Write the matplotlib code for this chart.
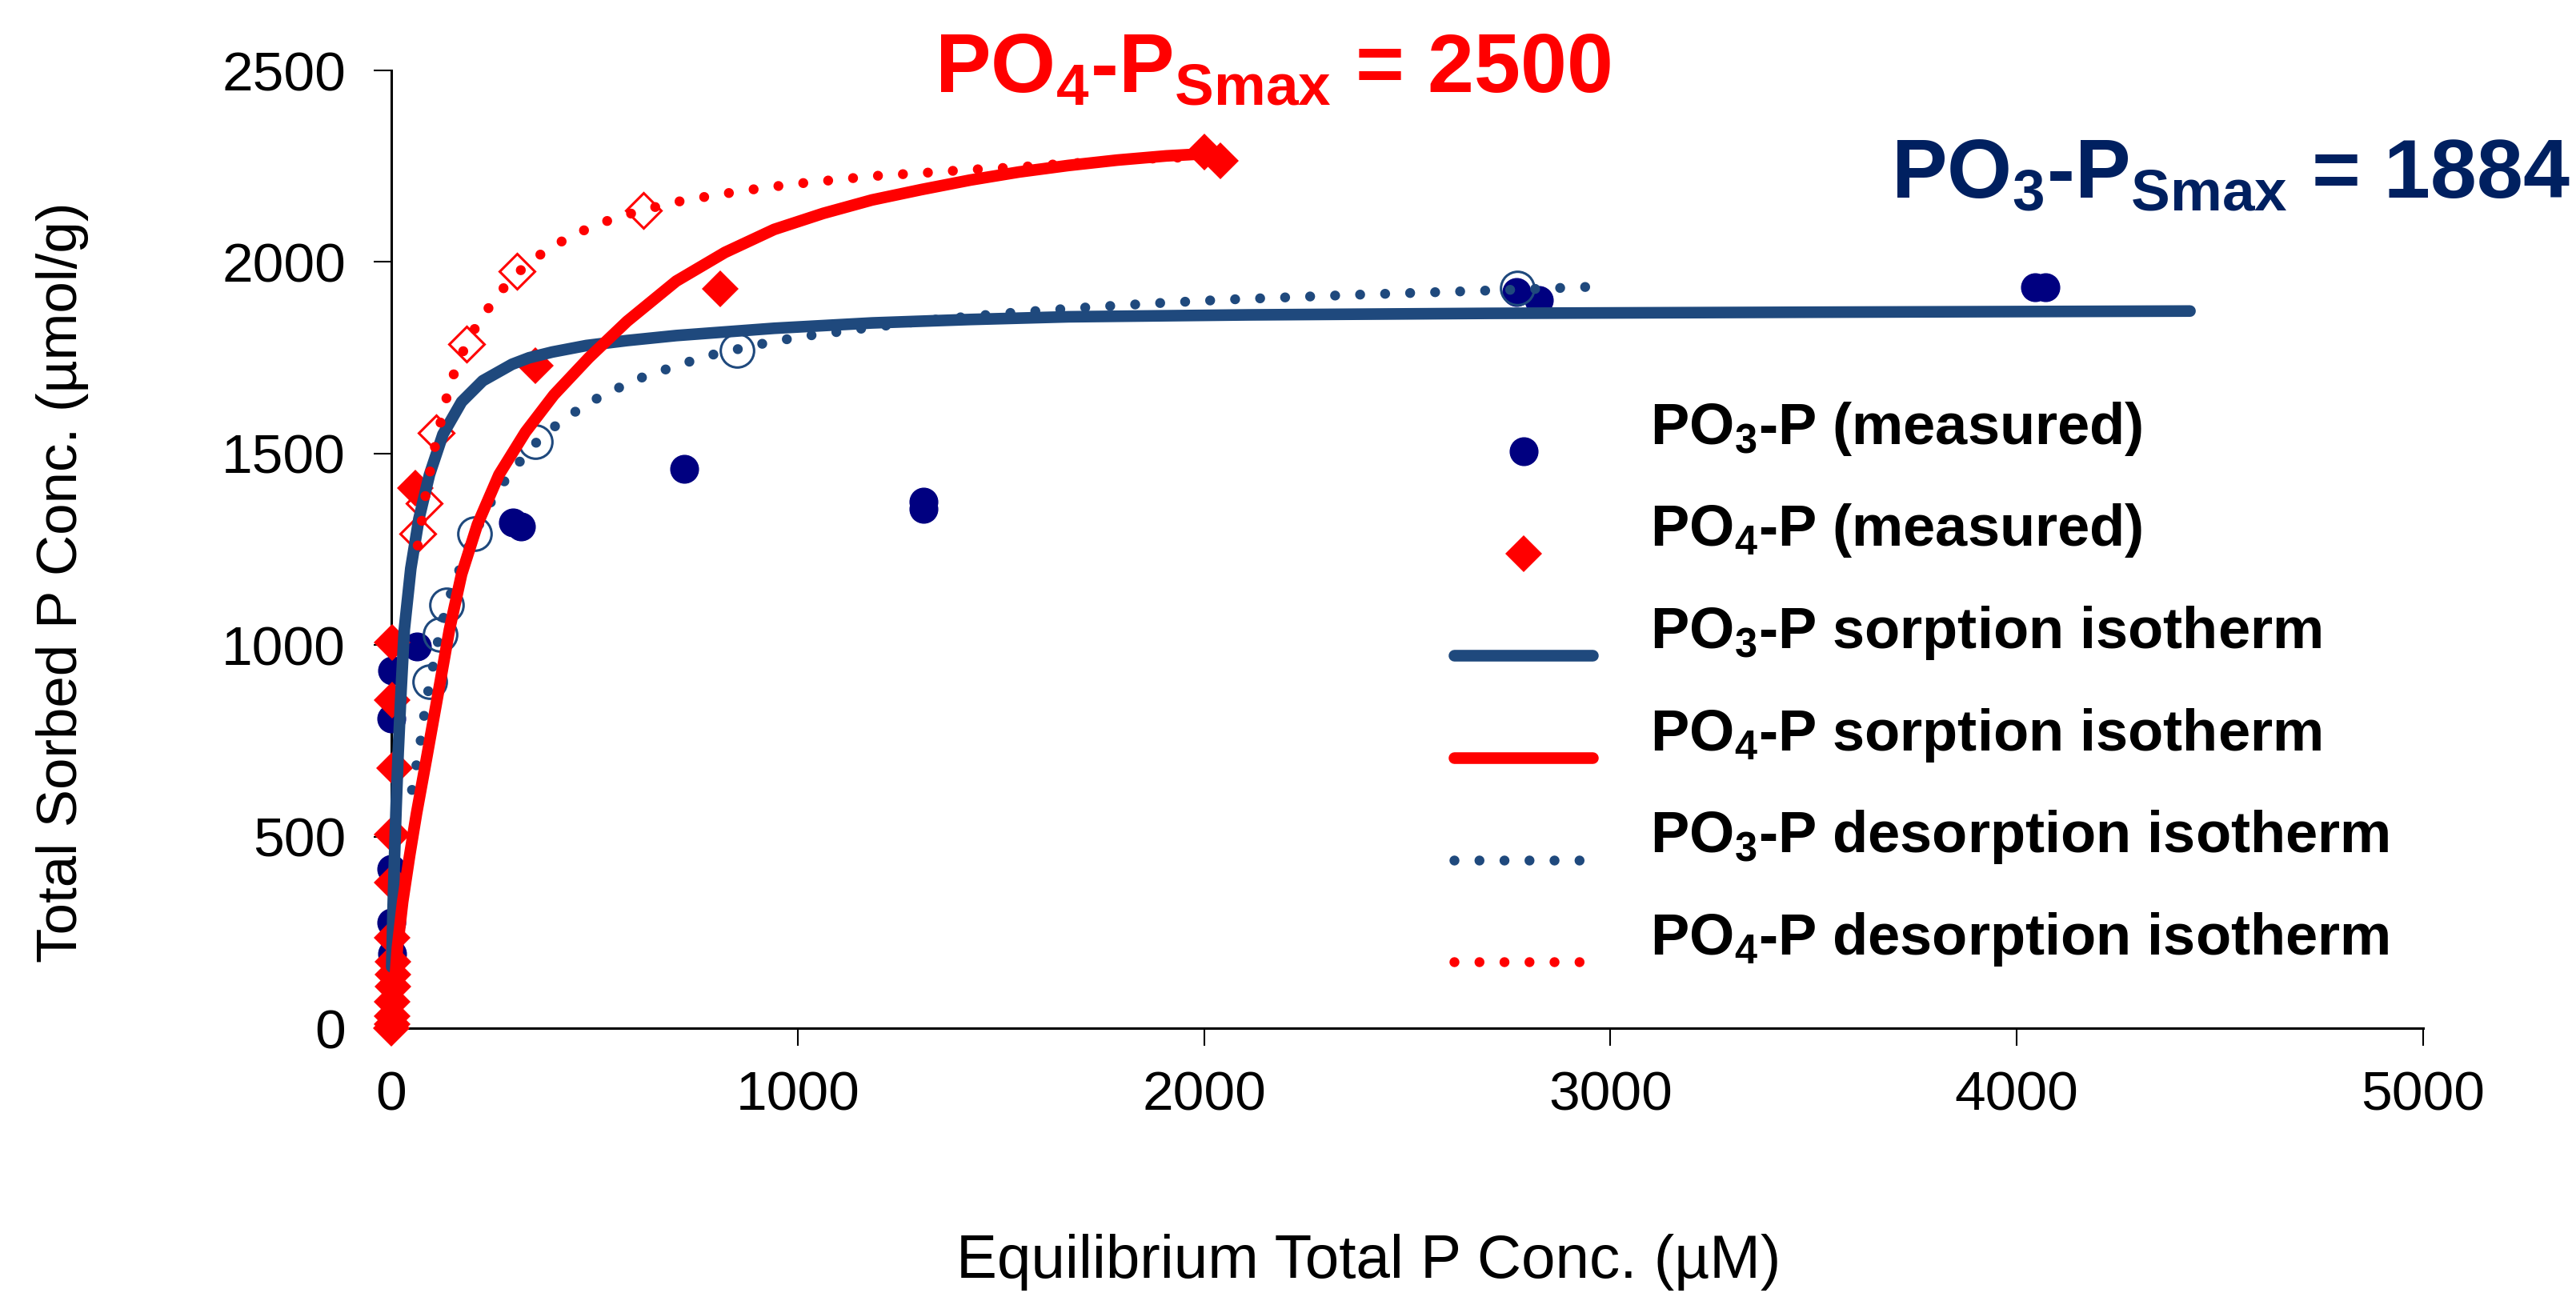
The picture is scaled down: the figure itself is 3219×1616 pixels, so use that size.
import matplotlib
matplotlib.use('Agg')
import matplotlib.pyplot as plt
from matplotlib.legend_handler import HandlerLine2D
from matplotlib.lines import Line2D

plt.rcParams['font.family'] = ['Liberation Sans', 'DejaVu Sans']
plt.rcParams['mathtext.fontset'] = 'custom'
plt.rcParams['mathtext.rm'] = 'Liberation Sans:bold'
plt.rcParams['mathtext.bf'] = 'Liberation Sans:bold'
plt.rcParams['mathtext.default'] = 'rm'

# measured sorption points (equilibrium conc. uM, sorbed umol/g)
po3_meas_x = [2, 0, 0, 0, 2, 64, 300, 320, 720, 1310, 1310, 2768, 2824, 4045, 4070]
po3_meas_y = [195, 276, 415, 808, 933, 996, 1320, 1310, 1460, 1375, 1355, 1921, 1900, 1935, 1935]

po4_meas_x = [0, 2, 3, 3, 4, 4, 4, 3, 2, 2, 8, 2, 2, 60, 355, 810, 2000, 2040]
po4_meas_y = [0, 10, 31, 69, 109, 140, 173, 236, 380, 505, 679, 856, 1006, 1410, 1730, 1930, 2287, 2265]

# desorption points (open markers)
po3_des_x = [94, 120, 135, 205, 355, 850, 2771]
po3_des_y = [905, 1027, 1105, 1291, 1530, 1770, 1932]

po4_des_x = [66, 80, 110, 185, 310, 620]
po4_des_y = [1290, 1370, 1555, 1785, 1975, 2135]

# isotherm curves
po3_sorp_x = [1, 4, 8, 12, 17, 24, 32, 48, 68, 94, 127, 173, 225, 297, 339, 396, 480, 580, 701,
              942, 1183, 1425, 1666, 2109, 2700, 3500, 4426]
po3_sorp_y = [160, 300, 450, 580, 720, 880, 1040, 1200, 1330, 1445, 1550, 1635, 1690, 1733, 1750, 1765, 1782, 1795, 1808,
              1827, 1841, 1850, 1857, 1862, 1866, 1869, 1872]

po4_sorp_x = [6, 15, 28, 45, 62, 86, 118, 143, 173, 212, 265, 330, 400, 486, 580, 701, 821, 942, 1063,
              1183, 1304, 1425, 1545, 1666, 1786, 1907, 2010]
po4_sorp_y = [80, 210, 330, 450, 560, 700, 890, 1040, 1185, 1315, 1445, 1556, 1653, 1750, 1845, 1950, 2025, 2085, 2127,
              2162, 2189, 2214, 2235, 2252, 2266, 2277, 2283]

po3_desp_x = [51, 61, 71, 79, 88, 98, 110, 120, 137, 153, 174, 196, 222, 248, 281, 317, 356, 400, 448, 499,
              554, 607, 665, 725, 782, 842, 900, 960, 1020, 1081, 1141, 1322, 1509, 1690, 1873, 2058, 2385, 2770, 2991]
po3_desp_y = [622, 682, 741, 804, 863, 922, 981, 1041, 1101, 1157, 1214, 1272, 1327, 1379, 1432, 1480, 1528, 1569, 1606, 1640,
              1669, 1695, 1716, 1737, 1756, 1770, 1784, 1796, 1807, 1815, 1824, 1848, 1866, 1880, 1892, 1902, 1915, 1928, 1937]

po4_desp_x = [65, 71, 79, 87, 99, 110, 137, 154, 176, 202, 230, 267, 309, 351, 400, 454, 508, 568, 626, 683,
              743, 806, 866, 927, 987, 1048, 1109, 1171, 1232, 1292, 1352, 1412, 1476, 1537, 1597, 1660, 1720,
              1780, 1907, 2049]
po4_desp_y = [1260, 1295, 1354, 1411, 1472, 1532, 1650, 1708, 1765, 1820, 1866, 1921, 1970, 2008, 2043, 2073, 2099, 2120, 2137, 2153,
              2165, 2176, 2186, 2195, 2203, 2210, 2216, 2223, 2228, 2231, 2236, 2240, 2244, 2247, 2252, 2257, 2260,
              2265, 2272, 2275]

navy = '#000080'
steel = '#1f497d'
red = '#ff0000'

fig = plt.figure(figsize=(32.19, 16.16), dpi=100)
ax = fig.add_axes([0.1519, 0.2048, 0.7888, 0.7407])

dots = (0, (0.001, 2.5))

ax.plot(po3_meas_x, po3_meas_y, ls='none', marker='o', ms=25, color=navy,
        label=r'PO$_3$-P (measured)', zorder=3, clip_on=False)
ax.plot(po4_meas_x, po4_meas_y, ls='none', marker='D', ms=23, color=red, mew=0,
        label=r'PO$_4$-P (measured)', zorder=3, clip_on=False)
ax.plot(po3_des_x, po3_des_y, ls='none', marker='o', ms=30, mfc='none', mec=steel, mew=2.2,
        zorder=3, clip_on=False)
ax.plot(po4_des_x, po4_des_y, ls='none', marker='D', ms=22, mfc='none', mec=red, mew=2.2,
        zorder=3, clip_on=False)

ax.plot(po3_sorp_x, po3_sorp_y, color=steel, lw=10.5, solid_capstyle='round', solid_joinstyle='round',
        label=r'PO$_3$-P sorption isotherm', zorder=4, clip_on=False)
ax.plot(po4_sorp_x, po4_sorp_y, color=red, lw=10.5, solid_capstyle='round', solid_joinstyle='round',
        label=r'PO$_4$-P sorption isotherm', zorder=5, clip_on=False)
ax.plot(po3_desp_x, po3_desp_y, color=steel, lw=9, ls=dots, dash_capstyle='round',
        label=r'PO$_3$-P desorption isotherm', zorder=4.5, clip_on=False)
ax.plot(po4_desp_x, po4_desp_y, color=red, lw=9, ls=dots, dash_capstyle='round',
        label=r'PO$_4$-P desorption isotherm', zorder=6, clip_on=False)

ax.set_xlim(0, 5000)
ax.set_ylim(0, 2500)
ax.set_xticks(range(0, 5001, 1000))
ax.set_yticks(range(0, 2501, 500))
for s in ['top', 'right']:
    ax.spines[s].set_visible(False)
for s in ['left', 'bottom']:
    ax.spines[s].set_linewidth(2.2)
ax.tick_params(axis='both', direction='out', length=16, width=1.5, labelsize=50)
ax.tick_params(axis='y', pad=25)
ax.tick_params(axis='x', pad=22)

ax.set_ylabel('Total Sorbed P Conc. (µmol/g)', fontsize=51)
ax.yaxis.set_label_coords(-0.149, 0.466)
ax.set_xlabel('Equilibrium Total P Conc. (µM)', fontsize=55)
ax.xaxis.set_label_coords(0.481, -0.215)


class LowHandler(HandlerLine2D):
    # legend symbols sit a bit below their text, as in the original
    def create_artists(self, legend, orig_handle, xdescent, ydescent, width, height, fontsize, trans):
        return super().create_artists(legend, orig_handle, xdescent, ydescent + 50,
                                      width, height, fontsize, trans)


ax.legend(loc='upper left', bbox_to_anchor=(0.523, 0.656), frameon=False,
          prop={'weight': 'bold', 'size': 52}, handlelength=2.4, handletextpad=1.0,
          labelspacing=0.77, borderpad=0, borderaxespad=0, numpoints=1,
          handler_map={Line2D: LowHandler()})

fig.text(0.3628, 0.9288, r'PO$_4$-P$_{Smax}$ = 2500', color=red, fontsize=75,
         fontweight='bold', va='baseline', ha='left')
fig.text(0.734, 0.847, r'PO$_3$-P$_{Smax}$ = 1884', color='#002060', fontsize=75,
         fontweight='bold', va='baseline', ha='left')

fig.savefig('out.png', dpi=100)
